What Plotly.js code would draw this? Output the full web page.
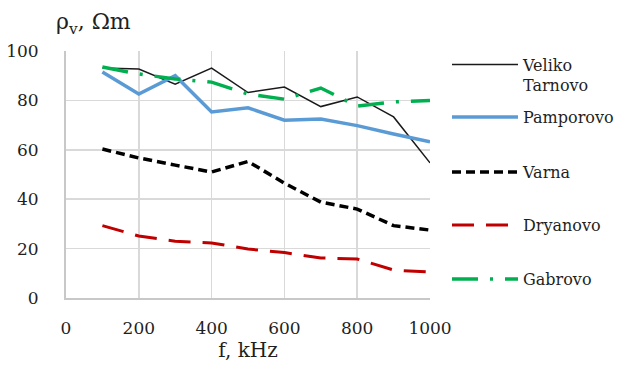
<!DOCTYPE html>
<html>
<head>
<meta charset="utf-8">
<script src="https://cdn.plot.ly/plotly-3.0.1.min.js"></script>
<style>html,body{margin:0;padding:0;background:#fff;}#chart{width:621px;height:367px;}</style>
</head>
<body>
<div id="chart"></div>
<script>
const freq = [100, 200, 300, 400, 500, 600, 700, 800, 900, 1000];
const velikoTarnovo = [93.1, 92.7, 86.6, 93.1, 83.2, 85.4, 77.5, 81.4, 73.3, 54.7];
const pamporovo = [91.5, 82.6, 90.0, 75.3, 77.0, 72.0, 72.5, 69.8, 66.4, 63.2];
const varna = [60.3, 56.7, 53.8, 51.0, 55.3, 46.5, 38.8, 36.0, 29.3, 27.5];
const dryanovo = [29.3, 25.1, 23.0, 22.3, 19.8, 18.4, 16.2, 15.8, 11.3, 10.5];
const gabrovo = [93.5, 90.7, 88.7, 87.4, 82.6, 80.5, 85.0, 77.7, 79.4, 80.0];
const seriesNames = ['Veliko<br>Tarnovo', 'Pamporovo', 'Varna', 'Dryanovo', 'Gabrovo'];
const xTicks = [0, 200, 400, 600, 800, 1000];
const yTicks = [0, 20, 40, 60, 80, 100];

const FONT = 'DejaVu Serif';
const TXT = '#1f1f1f';

const traces = [
  {x: freq, y: velikoTarnovo, name: seriesNames[0], legend: 'legend',
   line: {color: '#1a1a1a', width: 1.5}},
  {x: freq, y: pamporovo, name: seriesNames[1], legend: 'legend2',
   line: {color: '#5b9bd5', width: 3.5}},
  {x: freq, y: varna, name: seriesNames[2], legend: 'legend3',
   line: {color: '#000000', width: 3.5, dash: '9px,5px'}},
  {x: freq, y: dryanovo, name: seriesNames[3], legend: 'legend4',
   line: {color: '#c00000', width: 3, dash: '22px,12px'}},
  {x: freq, y: gabrovo, name: seriesNames[4], legend: 'legend5',
   line: {color: '#00b050', width: 3.5, dash: '26px,12px,3px,12px'}}
].map(t => Object.assign({type: 'scatter', mode: 'lines', hoverinfo: 'skip'}, t));

const plotL = 66, plotR = 430, plotT = 51, plotB = 298;
const pw = plotR - plotL, ph = plotB - plotT;
function px2x(p) { return (p - plotL) / pw; }
function py2y(p) { return (plotB - p) / ph; }

function mkLegend(yPix) {
  return {
    x: px2x(447), xanchor: 'left',
    y: py2y(yPix), yanchor: 'middle',
    bgcolor: 'rgba(0,0,0,0)', borderwidth: 0,
    font: {family: FONT, size: 16, color: TXT},
    itemwidth: 66, valign: 'top',
    itemclick: false, itemdoubleclick: false
  };
}

const layout = {
  width: 621, height: 367,
  margin: {l: plotL, r: 621 - plotR, t: plotT, b: 367 - plotB, pad: 0, autoexpand: false},
  paper_bgcolor: '#ffffff', plot_bgcolor: '#ffffff',
  font: {family: FONT, size: 17, color: TXT},
  showlegend: true,
  legend: mkLegend(75),
  legend2: mkLegend(117),
  legend3: mkLegend(172),
  legend4: mkLegend(225),
  legend5: mkLegend(279),
  xaxis: {
    range: [0, 1000], tickvals: xTicks, ticktext: xTicks.map(String),
    showgrid: true, gridcolor: '#d9d9d9', gridwidth: 1.5,
    showline: true, linecolor: '#c8c8c8', linewidth: 2, mirror: false,
    zeroline: false, ticks: '', ticklabelstandoff: 14,
    tickfont: {family: FONT, size: 17, color: TXT},
    title: {text: 'f, kHz', font: {family: FONT, size: 20, color: TXT}, standoff: 6}
  },
  yaxis: {
    range: [0, 100], tickvals: yTicks, ticktext: yTicks.map(String),
    showgrid: true, gridcolor: '#d9d9d9', gridwidth: 1.5,
    showline: true, linecolor: '#c8c8c8', linewidth: 2, mirror: false,
    zeroline: false, ticks: '', ticklabelstandoff: 22,
    tickfont: {family: FONT, size: 17, color: TXT}
  },
  annotations: [{
    xref: 'paper', yref: 'paper', x: px2x(54), y: py2y(24),
    xanchor: 'left', yanchor: 'middle', showarrow: false,
    text: 'ρ<sub>v</sub>, Ωm',
    font: {family: FONT, size: 22, color: TXT}
  }]
};

Plotly.newPlot('chart', traces, layout, {displayModeBar: false, staticPlot: true});
</script>
</body>
</html>
